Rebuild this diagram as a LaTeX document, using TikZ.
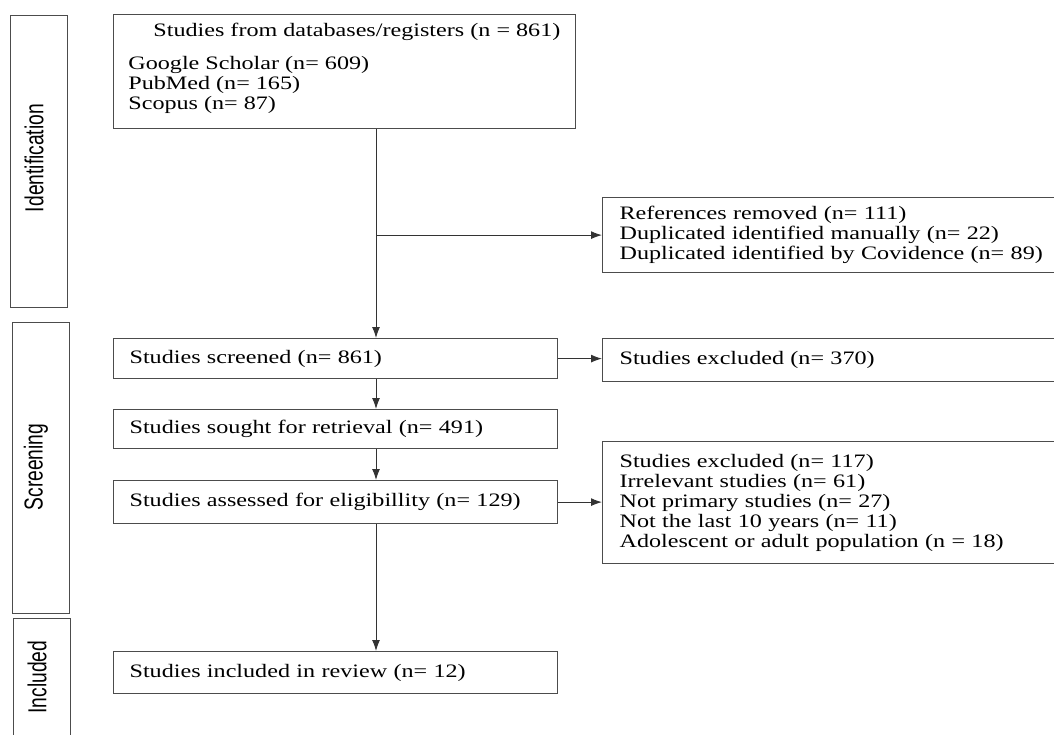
\documentclass[tikz,border=0pt]{standalone}
\usepackage{fontspec}
\setmainfont{Liberation Serif}[FakeStretch=1.27]
\newfontfamily\sidefont{Liberation Sans}[FakeStretch=0.74]
\usetikzlibrary{arrows.meta}

\begin{document}
\begin{tikzpicture}[x=0.5pt, y=-0.5pt, >={Latex[length=5.5pt,width=4pt]},
		every node/.style={font=\fontsize{9.5}{10}\selectfont},
		box/.style={draw=black!70, line width=0.6pt, anchor=north west, align=left, inner ysep=0pt, inner xsep=8pt},
		side/.style={draw=black!70, line width=0.6pt, anchor=north west, minimum width=28.5pt, inner sep=0pt},
		sidelab/.style={rotate=90, inner sep=0pt, font=\sidefont\fontsize{13}{13}\selectfont},
		link/.style={->, draw=black!80, line width=0.5pt}]
		\useasboundingbox (0,0) rectangle (1054,734);
		\fill[white] (0,0) rectangle (1054,734);
		\clip (0,0) rectangle (1054,734);
		% phase boxes
		\node[side, minimum height=146pt] (ident) at (10,15) {};
		\node[side, minimum height=145.5pt] (screen) at (12,322) {};
		\node[side, minimum height=65pt] (incl) at (13,618) {};
		\node[sidelab] (identlab) at (34,158) {Identification};
		\node[sidelab] (screenlab) at (36,467) {Screening};
		\node[sidelab] (incllab) at (37,677) {Included};
		% sources
		\node[box, minimum width=231pt, minimum height=57pt] (src) at (113,14) {};
		\node[anchor=west, inner sep=0pt] (srctitle) at (153,32) {Studies from databases/registers (n = 861)};
		\node[anchor=west, inner sep=0pt, align=left] (srclist) at (128,85) {Google Scholar (n= 609)\\PubMed (n= 165)\\Scopus (n= 87)};
		\coordinate (spine) at (376,0);
		% main column
		\node[box, text width=206pt, minimum height=20pt] (screened) at (113,338) {Studies screened (n= 861)};
		\node[box, text width=206pt, minimum height=19.5pt] (sought) at (113,409) {Studies sought for retrieval (n= 491)};
		\node[box, text width=206pt, minimum height=21.5pt] (assessed) at (113,480) {Studies assessed for eligibillity (n= 129)};
		\node[box, text width=206pt, minimum height=21pt] (included) at (113,651) {Studies included in review (n= 12)};
		% excluded column
		\node[box, text width=218pt, minimum height=37.5pt, inner xsep=8.5pt] (removed) at (602,197) {References removed (n= 111)\\Duplicated identified manually (n= 22)\\Duplicated identified by Covidence (n= 89)};
		\node[box, text width=218pt, minimum height=21.5pt, inner xsep=8.5pt] (excla) at (602,338) {Studies excluded (n= 370)};
		\node[box, text width=218pt, minimum height=61pt, inner xsep=8.5pt] (exclb) at (602,441) {Studies excluded (n= 117)\\Irrelevant studies (n= 61)\\Not primary studies (n= 27)\\Not the last 10 years (n= 11)\\Adolescent or adult population (n = 18)};
		% arrows
		\draw[link] (src.south -| spine) -- (screened.north -| spine);
		\draw[link] (spine |- removed.west) -- (removed.west);
		\draw[link] (screened.south -| spine) -- (sought.north -| spine);
		\draw[link] (sought.south -| spine) -- (assessed.north -| spine);
		\draw[link] (assessed.south -| spine) -- (included.north -| spine);
		\draw[link] (screened.east) -- (screened.east -| excla.west);
		\draw[link] (assessed.east) -- (assessed.east -| exclb.west);
	\end{tikzpicture}
\end{document}
